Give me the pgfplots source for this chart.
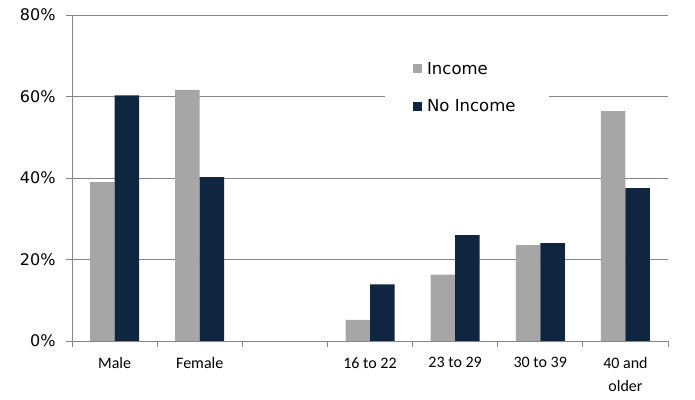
\documentclass[border=0pt]{standalone}
\usepackage{pgfplots}
\pgfplotsset{compat=1.18}
\usepackage{fontspec}
\setmainfont{Carlito}
\newfontfamily\verd{DejaVu Sans}
\definecolor{inc}{RGB}{166,166,166}
\definecolor{noinc}{RGB}{16,37,64}
\definecolor{gridc}{RGB}{134,134,134}
\begin{document}
\begin{tikzpicture}
\begin{axis}[
  scale only axis, width=596pt, height=326pt,
  xmin=-0.5, xmax=6.5, ymin=0, ymax=80,
  ybar=0pt, bar width=24.5pt,
  xtick={0,1,3,4,5,6},
  xticklabels={Male,Female,16 to 22,23 to 29,30 to 39,40 and\\older},
  x tick label style={font=\fontsize{16}{23}\selectfont, align=center, yshift=-7pt},
  major x tick style={draw=none},
  minor xtick={-0.5,0.5,...,6.5},
  ytick={0,20,...,80},
  yticklabel={\pgfmathprintnumber{\tick}\%},
  /pgf/number format/assume math mode=true,
  y tick label style={font=\verd\fontsize{16}{18}\selectfont, xshift=-7pt},
  ymajorgrids, grid style={gridc, line width=0.8pt},
  axis x line=bottom, axis y line=left,
  axis line style={gridc, line width=0.8pt, -},
  tick style={gridc, line width=0.8pt},
  tick align=outside, major tick length=6pt, minor tick length=6pt,
  legend style={at={(0.525,0.887)}, anchor=north west, draw=none, fill=white,
    font=\verd\fontsize{16.5}{18}\selectfont, row sep=20pt,
    inner xsep=28pt, inner ysep=8pt,
    nodes={inner xsep=5pt}},
  legend cell align=left,
  legend image code/.code={\fill[#1] (0pt,-4.5pt) rectangle (9pt,4.5pt);},
]
\addplot[fill=inc, draw=none] coordinates {
  (0,39.0) (1,61.6) (3,5.2) (4,16.3) (5,23.5) (6,56.4)};
\addplot[fill=noinc, draw=none] coordinates {
  (0,60.3) (1,40.2) (3,13.9) (4,26.0) (5,24.0) (6,37.5)};
\legend{Income,No Income}
\end{axis}
\pgfresetboundingbox
\path ([shift={(-72pt,-59pt)}]current axis.south west) rectangle ([shift={(27pt,15pt)}]current axis.north east);
\end{tikzpicture}
\end{document}
